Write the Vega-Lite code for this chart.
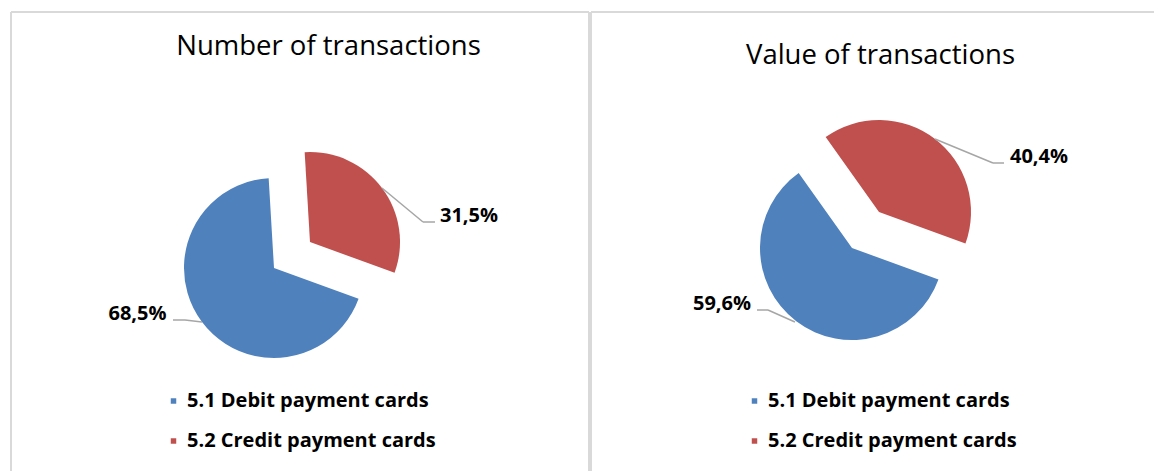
{
  "$schema": "https://vega.github.io/schema/vega-lite/v6.json",
  "background": "white",
  "padding": {"left": 10, "top": 11, "right": 0, "bottom": 0},
  "spacing": 2,
  "bounds": "flush",
  "resolve": {"scale": {"color": "independent"}, "legend": {"color": "independent"}},
  "datasets": {
    "number": [
      {"category": "5.1 Debit payment cards", "share": 0.685},
      {"category": "5.2 Credit payment cards", "share": 0.315}
    ],
    "value": [
      {"category": "5.1 Debit payment cards", "share": 0.596},
      {"category": "5.2 Credit payment cards", "share": 0.404}
    ]
  },
  "hconcat": [
    {
      "width": 578,
      "height": 459,
      "data": {"name": "number"},
      "title": {"text": "Number of transactions", "font": "Open Sans", "fontSize": 27.5, "fontWeight": "normal", "color": "#000000", "anchor": "middle", "frame": "group", "baseline": "alphabetic", "offset": -71, "dx": 28.5},
      "layer": [
        {
          "data": {"values": [{}]},
          "mark": {"type": "rule", "color": "#d9d9d9", "strokeWidth": 2},
          "encoding": {"y": {"value": 0}}
        },
        {
          "data": {"values": [{}]},
          "mark": {"type": "rule", "color": "#d9d9d9", "strokeWidth": 2},
          "encoding": {"x": {"value": 0}}
        },
        {
          "data": {"values": [{}]},
          "mark": {"type": "rule", "color": "#d9d9d9", "strokeWidth": 2},
          "encoding": {"x": {"value": "width"}}
        },
        {
          "mark": {"type": "arc", "radius": 90},
          "encoding": {
            "theta": {"field": "share", "type": "quantitative", "stack": true, "scale": {"domain": [0, 1], "range": [1.9199, 8.2031]}},
            "order": {"field": "category", "sort": "ascending"},
            "color": {
              "field": "category", "type": "nominal",
              "scale": {"domain": ["5.1 Debit payment cards", "5.2 Credit payment cards"], "range": ["#4F81BD", "#C0504D"]},
              "legend": {"orient": "none", "legendX": 152.5, "legendY": 379, "title": null, "padding": 0, "symbolType": "square", "symbolSize": 30, "symbolStrokeWidth": 0, "labelFont": "Open Sans", "labelFontWeight": "bold", "labelFontSize": 20, "labelColor": "#000000", "labelLimit": 400, "labelOffset": 3.5, "rowPadding": 20}
            },
            "x": {"field": "category", "type": "nominal", "scale": {"type": "point", "padding": 0, "range": [263, 299]}, "axis": null},
            "y": {"field": "category", "type": "nominal", "scale": {"type": "point", "padding": 0, "range": [256, 230]}, "axis": null}
          }
        },
        {
          "encoding": {
            "x": {"field": "category", "type": "nominal", "scale": {"type": "point", "padding": 0, "range": [174, 412]}, "axis": null},
            "y": {"field": "category", "type": "nominal", "scale": {"type": "point", "padding": 0, "range": [308, 210]}, "axis": null}
          },
          "layer": [
            {
              "mark": {"type": "arc", "filled": false, "stroke": "#a6a6a6", "strokeWidth": 1.5},
              "encoding": {
                "theta": {"field": "share", "type": "quantitative", "stack": null, "scale": {"type": "linear", "domain": [0.685, 0.315], "range": [1.688, 5.405], "zero": false, "nice": false}},
                "theta2": {"field": "share"},
                "radius": {"field": "share", "type": "quantitative", "scale": {"type": "linear", "domain": [0.685, 0.315], "range": [17.1, 53.3], "zero": false, "nice": false}},
                "radius2": {"value": 0}
              }
            },
            {
              "mark": {"type": "arc", "filled": false, "stroke": "#a6a6a6", "strokeWidth": 1.5, "radius": 12, "radius2": 0},
              "encoding": {
                "theta": {"field": "share", "type": "quantitative", "stack": null, "scale": {"type": "linear", "domain": [0.685, 0.315], "range": [4.712, 1.571], "zero": false, "nice": false}},
                "theta2": {"field": "share"}
              }
            }
          ],
          "resolve": {"scale": {"theta": "independent", "radius": "independent"}}
        },
        {
          "mark": {"type": "text", "font": "Open Sans", "fontWeight": "bold", "fontSize": 20, "color": "#000000", "align": "center", "baseline": "alphabetic"},
          "encoding": {
            "x": {"field": "category", "type": "nominal", "scale": {"type": "point", "padding": 0, "range": [126.5, 458]}, "axis": null},
            "y": {"field": "category", "type": "nominal", "scale": {"type": "point", "padding": 0, "range": [308, 210]}, "axis": null},
            "text": {"field": "share", "type": "quantitative", "format": ".1%"}
          }
        }
      ],
      "resolve": {"scale": {"x": "independent", "y": "independent", "theta": "independent", "radius": "independent"}}
    },
    {
      "width": 563,
      "height": 459,
      "data": {"name": "value"},
      "title": {"text": "Value of transactions", "font": "Open Sans", "fontSize": 27.5, "fontWeight": "normal", "color": "#000000", "anchor": "middle", "frame": "group", "baseline": "alphabetic", "offset": -80, "dx": 8},
      "layer": [
        {
          "data": {"values": [{}]},
          "mark": {"type": "rule", "color": "#d9d9d9", "strokeWidth": 2},
          "encoding": {"y": {"value": 0}}
        },
        {
          "data": {"values": [{}]},
          "mark": {"type": "rule", "color": "#d9d9d9", "strokeWidth": 2},
          "encoding": {"x": {"value": 0}}
        },
        {
          "mark": {"type": "arc", "radius": 92},
          "encoding": {
            "theta": {"field": "share", "type": "quantitative", "stack": true, "scale": {"domain": [0, 1], "range": [1.9199, 8.2031]}},
            "order": {"field": "category", "sort": "ascending"},
            "color": {
              "field": "category", "type": "nominal",
              "scale": {"domain": ["5.1 Debit payment cards", "5.2 Credit payment cards"], "range": ["#4F81BD", "#C0504D"]},
              "legend": {"orient": "none", "legendX": 153.5, "legendY": 379, "title": null, "padding": 0, "symbolType": "square", "symbolSize": 30, "symbolStrokeWidth": 0, "labelFont": "Open Sans", "labelFontWeight": "bold", "labelFontSize": 20, "labelColor": "#000000", "labelLimit": 400, "labelOffset": 3.5, "rowPadding": 20}
            },
            "x": {"field": "category", "type": "nominal", "scale": {"type": "point", "padding": 0, "range": [261, 288]}, "axis": null},
            "y": {"field": "category", "type": "nominal", "scale": {"type": "point", "padding": 0, "range": [236, 200]}, "axis": null}
          }
        },
        {
          "encoding": {
            "x": {"field": "category", "type": "nominal", "scale": {"type": "point", "padding": 0, "range": [177, 402]}, "axis": null},
            "y": {"field": "category", "type": "nominal", "scale": {"type": "point", "padding": 0, "range": [298, 151]}, "axis": null}
          },
          "layer": [
            {
              "mark": {"type": "arc", "filled": false, "stroke": "#a6a6a6", "strokeWidth": 1.5},
              "encoding": {
                "theta": {"field": "share", "type": "quantitative", "stack": null, "scale": {"type": "linear", "domain": [0.596, 0.404], "range": [1.990, 5.105], "zero": false, "nice": false}},
                "theta2": {"field": "share"},
                "radius": {"field": "share", "type": "quantitative", "scale": {"type": "linear", "domain": [0.596, 0.404], "range": [29.5, 62.8], "zero": false, "nice": false}},
                "radius2": {"value": 0}
              }
            },
            {
              "mark": {"type": "arc", "filled": false, "stroke": "#a6a6a6", "strokeWidth": 1.5, "radius": 11, "radius2": 0},
              "encoding": {
                "theta": {"field": "share", "type": "quantitative", "stack": null, "scale": {"type": "linear", "domain": [0.596, 0.404], "range": [4.712, 1.571], "zero": false, "nice": false}},
                "theta2": {"field": "share"}
              }
            }
          ],
          "resolve": {"scale": {"theta": "independent", "radius": "independent"}}
        },
        {
          "mark": {"type": "text", "font": "Open Sans", "fontWeight": "bold", "fontSize": 20, "color": "#000000", "align": "center", "baseline": "alphabetic"},
          "encoding": {
            "x": {"field": "category", "type": "nominal", "scale": {"type": "point", "padding": 0, "range": [131, 448]}, "axis": null},
            "y": {"field": "category", "type": "nominal", "scale": {"type": "point", "padding": 0, "range": [298, 151]}, "axis": null},
            "text": {"field": "share", "type": "quantitative", "format": ".1%"}
          }
        }
      ],
      "resolve": {"scale": {"x": "independent", "y": "independent", "theta": "independent", "radius": "independent"}}
    }
  ],
  "config": {
    "view": {"stroke": null},
    "locale": {"number": {"decimal": ",", "thousands": ".", "grouping": [3], "currency": ["", " €"]}}
  }
}
